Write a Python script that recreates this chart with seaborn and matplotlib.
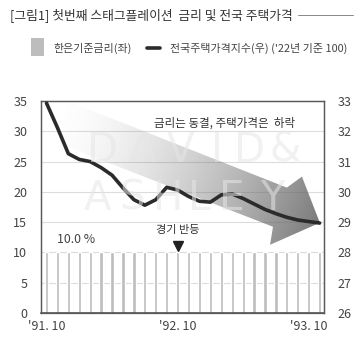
import numpy as np
import pandas as pd
import matplotlib
matplotlib.use("Agg")
import matplotlib.pyplot as plt
from matplotlib.patches import Polygon, Rectangle
from matplotlib.lines import Line2D
import seaborn as sns

# ---- data -------------------------------------------------------------
months = ["91.10", "91.11", "91.12", "92.01", "92.02", "92.03", "92.04",
          "92.05", "92.06", "92.07", "92.08", "92.09", "92.10", "92.11",
          "92.12", "93.01", "93.02", "93.03", "93.04", "93.05", "93.06",
          "93.07", "93.08", "93.09", "93.10", "93.11"]
base_rate = [10.0, 10.0, 10.0, 10.0, 10.0, 10.0, 10.0, 10.0, 10.0, 10.0,
             10.0, 10.0, 10.0, 10.0, 10.0, 10.0, 10.0, 10.0, 10.0, 10.0,
             10.0, 10.0, 10.0, 10.0, 10.0, 10.0]
house_index = [32.93, 32.12, 31.26, 31.07, 31.00, 30.80, 30.55, 30.13,
               29.74, 29.56, 29.74, 30.15, 30.06, 29.85, 29.69, 29.66,
               29.90, 29.93, 29.78, 29.60, 29.42, 29.28, 29.16, 29.07,
               29.02, 28.97]
tick_months = ["91.10", "92.10", "93.10"]
tick_labels = ["'91. 10", "'92. 10", "'93. 10"]
rebound_month = "92.10"

title = "[그림1] 첫번째 스태그플레이션  금리 및 전국 주택가격"
legend_bar = "한은기준금리(좌)"
legend_line = "전국주택가격지수(우) ('22년 기준 100)"
note_trend = "금리는 동결, 주택가격은  하락"
note_rebound = "경기 반등"

# ---- style ------------------------------------------------------------
sns.set_theme(style="white")
plt.rcParams["font.family"] = ["Noto Sans CJK KR", "DejaVu Sans"]
plt.rcParams["axes.unicode_minus"] = False

BAR_C = "#bdbdbd"
LINE_C = "#2b2b2b"
TXT_C = "#444444"

W, H = 363, 342
fig = plt.figure(figsize=(W / 100, H / 100), dpi=100)
fig.patch.set_facecolor("white")


def fx(px):
    return px / W


def fy(py):
    return 1 - py / H


ax = fig.add_axes([fx(40.5), fy(313), fx(324) - fx(40.5), fy(101) - fy(313)])

df = pd.DataFrame({"month": months, "rate": base_rate, "index": house_index})
pos = np.arange(len(months))

# bars: base rate (left axis)
sns.barplot(data=df, x="month", y="rate", color=BAR_C, width=0.3,
            saturation=1, ax=ax, zorder=2)

ax.set_ylim(0, 35)
ax.set_yticks(np.arange(0, 36, 5))
ax.set_xlim(-0.55, 25.4)
ax.yaxis.grid(True, color="#dcdcdc", lw=0.8)
ax.set_axisbelow(True)
ax.set_xlabel("")
ax.set_ylabel("")

# big gradient arrow (decoration)
arrow_xy = np.array([[1.55, 35.26], [22.0, 20.7], [23.38, 22.52],
                     [25.02, 14.9], [20.46, 11.26], [20.73, 14.24],
                     [0.18, 28.64]])
xs = np.linspace(0, 25.2, 400)
ys = np.linspace(11, 35.4, 300)
X, Y = np.meshgrid(xs, ys)
PX, PY = 46 + 10.95 * X, 6.04 * Y
x0, y0 = 50.0, 6.04 * 31.5
x1, y1 = 320.0, 6.04 * 14.9
dx, dy = x1 - x0, y1 - y0
t = ((PX - x0) * dx + (PY - y0) * dy) / (dx * dx + dy * dy)
t = np.clip(t, 0, 1)
img = np.zeros(X.shape + (4,))
img[..., :3] = 0.42
img[..., 3] = 0.9 * t ** 1.55
im = ax.imshow(img, extent=[xs[0], xs[-1], ys[0], ys[-1]], origin="lower",
               aspect="auto", zorder=1.5, interpolation="bilinear")
clip = Polygon(arrow_xy, closed=True, transform=ax.transData,
               facecolor="none", edgecolor="none")
ax.add_patch(clip)
im.set_clip_path(clip)
ax.set_xlim(-0.55, 25.4)
ax.set_ylim(0, 35)

# faint watermark lettering
wm_rows = [("DAVID&", [103, 142, 180, 217, 249, 285], 151),
           ("ASHLEY", [97, 132, 168, 199, 232, 272], 199)]
for word, xs_px, py in wm_rows:
    for ch, px in zip(word, xs_px):
        fig.text(fx(px), fy(py), ch, family="DejaVu Sans", fontsize=29,
                 color="#e6e6e6", alpha=0.55, ha="center", va="center",
                 zorder=1.8)

# line: house price index (right axis)
ax2 = ax.twinx()
sns.lineplot(x=pos, y=df["index"], color=LINE_C, lw=2.6, ax=ax2,
             solid_capstyle="round", zorder=5)
ax2.set_ylim(26, 33)
ax2.set_yticks(np.arange(26, 34, 1))
ax2.set_ylabel("")
ax2.grid(False)

# ticks
tick_pos = [months.index(m) for m in tick_months]
ax.set_xticks(tick_pos)
ax.set_xticklabels(tick_labels)
ax.tick_params(axis="x", length=0, pad=5, labelsize=9, colors=TXT_C)
ax.tick_params(axis="y", length=0, pad=9.5, labelsize=9, colors=TXT_C)
ax2.tick_params(axis="y", length=0, pad=9.5, labelsize=9, colors=TXT_C)

for a in (ax, ax2):
    for side in ("top", "right", "left", "bottom"):
        a.spines[side].set_color("#5a5a5a")
        a.spines[side].set_linewidth(0.9)
ax.spines["bottom"].set_color("#444444")
ax.spines["bottom"].set_linewidth(1.1)

# annotations
ax.text(16.3, 31.3, note_trend, ha="center", va="center", fontsize=8.3,
        color="#333333", zorder=6)
rb = months.index(rebound_month)
ax.text(rb, 13.7, note_rebound, ha="center", va="center", fontsize=8,
        color="#333333", zorder=6)
ax.plot([rb], [11.0], marker="v", ms=7, color="#222222", zorder=6,
        clip_on=False)
ax.text(1.0, 12.2, f"{base_rate[0]:.1f} %", ha="left", va="center",
        fontsize=8.8, color=TXT_C, zorder=6)

# title and rule
fig.text(fx(10), fy(15), title, fontsize=9.2, color="#333333",
         ha="left", va="center")
fig.add_artist(Line2D([fx(298), fx(353)], [fy(15), fy(15)],
                      color="#888888", lw=0.7))

# legend
fig.add_artist(Rectangle((fx(31), fy(56)), fx(13), 18 / H,
                         facecolor=BAR_C, edgecolor="none"))
fig.text(fx(53), fy(48), legend_bar, fontsize=7.9, color=TXT_C,
         ha="left", va="center")
fig.add_artist(Line2D([fx(147), fx(160)], [fy(48), fy(48)],
                      color=LINE_C, lw=2.6))
fig.text(fx(170), fy(48), legend_line, fontsize=7.9, color=TXT_C,
         ha="left", va="center")

fig.savefig("out.png", dpi=100, facecolor="white")
